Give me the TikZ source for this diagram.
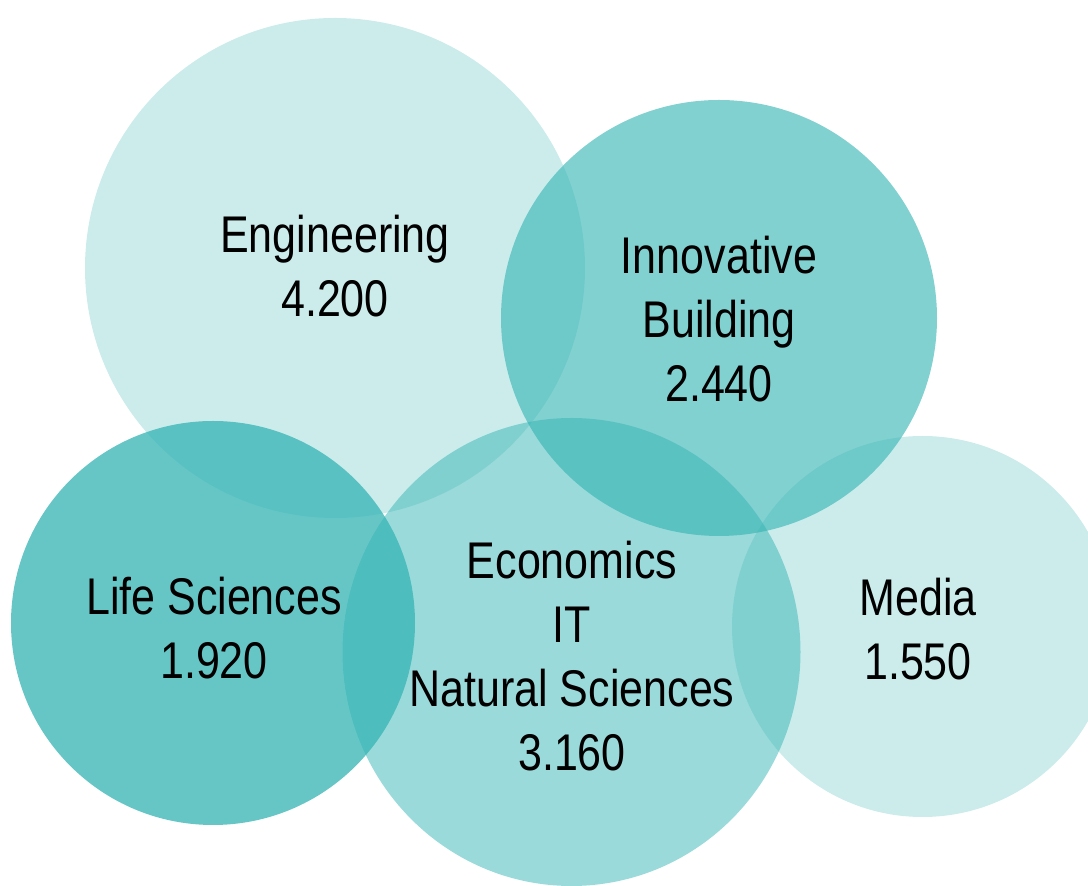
\documentclass[tikz,border=0pt]{standalone}
\usepackage{fontspec}
\setmainfont{Liberation Sans}
\definecolor{teal0}{RGB}{51,179,179}
\begin{document}
\begin{tikzpicture}[x=1pt,y=1pt,
  lbl/.style={align=center, inner sep=0pt, text=black, yscale=1.2, transform shape,
    font=\fontsize{43}{53.3}\selectfont}]
\useasboundingbox (0,0) rectangle (1088,886);
\clip (0,0) rectangle (1088,886);
\fill[teal0, fill opacity=0.25] (335,618) circle[radius=250pt];
\fill[teal0, fill opacity=0.61] (719,568) circle[radius=218pt];
\fill[teal0, fill opacity=0.75] (213,263) circle[radius=202pt];
\fill[teal0, fill opacity=0.49] (571.5,234) ellipse[x radius=229pt, y radius=234pt];
\fill[teal0, fill opacity=0.25] (922.5,259.5) circle[radius=190.5pt];
\node[lbl] (eng) at (335,620) {Engineering\\4.200};
\node[lbl] (inno) at (719,567) {Innovative\\Building\\2.440};
\node[lbl] (life) at (214,258) {Life Sciences\\1.920};
\node[lbl] (econ) at (572,230) {Economics\\IT\\Natural Sciences\\3.160};
\node[lbl] (media) at (918,256.5) {Media\\1.550};
\end{tikzpicture}
\end{document}
